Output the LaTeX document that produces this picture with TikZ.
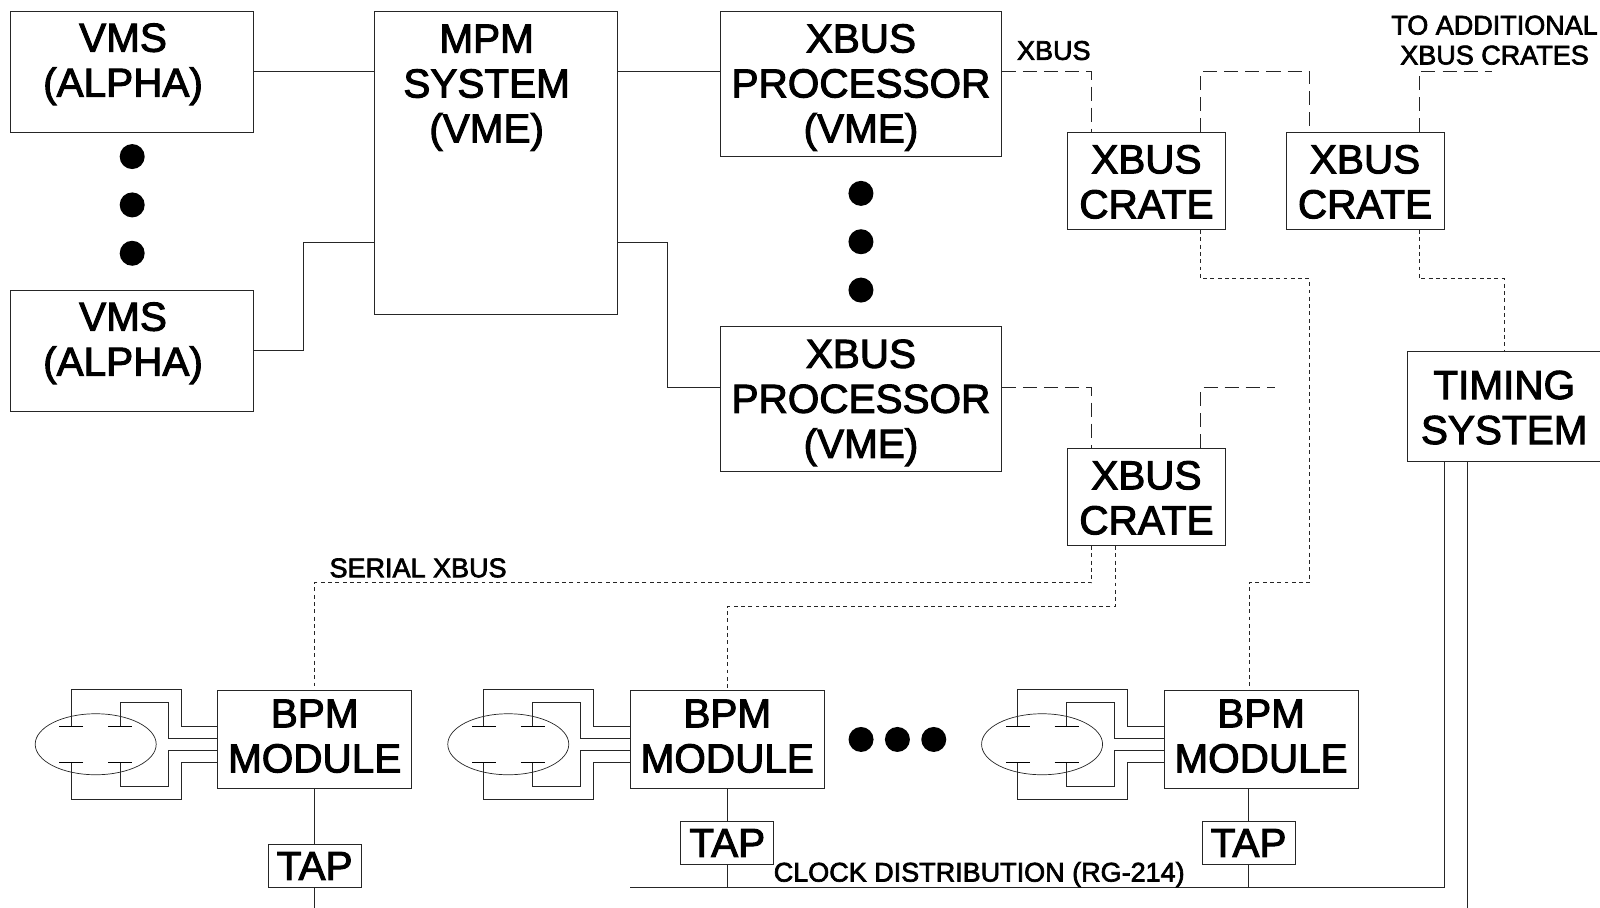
\documentclass[tikz,border=0pt]{standalone}
\usepackage{fontspec}
\setmainfont{Liberation Sans}[RawFeature={embolden=2.5}]
\usepackage{xcolor}
\usepackage{tikz}
\usetikzlibrary{shapes,arrows.meta,positioning,calc}

\newcommand{\tailgap}[1]{\\[#1]\mbox{}}
\newcommand{\leftpad}{\rule{13pt}{0pt}}

\begin{document}
\begin{tikzpicture}[
    box/.style={rectangle, draw=black!85, line width=0.7pt, inner sep=0pt, align=center, font=\fontsize{28.8}{32}\selectfont},
    vmsbox/.style={box, minimum width=6.075cm, minimum height=3.025cm},
    mpmbox/.style={box, minimum width=6.075cm, minimum height=7.575cm},
    procbox/.style={box, minimum width=7.015cm, minimum height=3.625cm},
    cratebox/.style={box, minimum width=3.95cm, minimum height=2.425cm},
    timebox/.style={box, minimum width=4.85cm, minimum height=2.75cm},
    bpmbox/.style={box, minimum width=4.85cm, minimum height=2.45cm},
    tapbox/.style={box, minimum width=2.325cm, minimum height=1.075cm},
    bigdot/.style={circle, fill=black, inner sep=0pt, minimum size=0.625cm},
    tube/.style={ellipse, draw=black!85, line width=0.5pt, inner sep=0pt, minimum width=3.025cm, minimum height=1.525cm},
    smalltext/.style={inner sep=0pt, align=center, font=\fontsize{19.2}{21.3}\selectfont},
    wire/.style={draw=black!85, line width=0.7pt},
    busline/.style={wire, dash pattern=on 10pt off 5pt},
    serialline/.style={wire, dash pattern=on 2.8pt off 2.4pt}
]
    \useasboundingbox (0,0) rectangle (40,-22.7);

    % computers and processors
    \node [vmsbox, anchor=north west] (vms1) at (0.255,-0.275) {VMS\leftpad\\(ALPHA)\leftpad\tailgap{-15pt}};
    \node [vmsbox, below=3.925cm of vms1] (vms2) {VMS\leftpad\\(ALPHA)\leftpad\tailgap{-15pt}};
    \node [mpmbox, below right=0cm and 2.99cm of vms1.north east] (mpm) {MPM\leftpad\\SYSTEM\leftpad\\(VME)\leftpad\tailgap{81pt}};
    \node [procbox, below right=0cm and 2.56cm of mpm.north east] (xp1) {XBUS\\PROCESSOR\\(VME)\tailgap{-31pt}};
    \node [procbox, below=4.235cm of xp1] (xp2) {XBUS\\PROCESSOR\\(VME)\tailgap{-31pt}};

    \node [bigdot, below=0.27cm of vms1] (vd1) {};
    \node [bigdot, below=0.57cm of vd1] (vd2) {};
    \node [bigdot, below=0.57cm of vd2] (vd3) {};
    \node [bigdot, below=0.59cm of xp1] (xd1) {};
    \node [bigdot, below=0.57cm of xd1] (xd2) {};
    \node [bigdot, below=0.57cm of xd2] (xd3) {};

    % crates
    \node [cratebox, below right=3.025cm and 1.63cm of xp1.north east] (crate1) {XBUS\\CRATE\tailgap{-33pt}};
    \node [cratebox, below right=0cm and 1.49cm of crate1.north east] (crate2) {XBUS\\CRATE\tailgap{-33pt}};
    \node [cratebox, below=5.45cm of crate1] (crate3) {XBUS\\CRATE\tailgap{-33pt}};
    \node [timebox, below right=3.03cm and -0.945cm of crate2.south east] (timing) {TIMING\\SYSTEM\tailgap{-33pt}};

    % modules
    \node [bpmbox, below right=6.95cm and 5.175cm of vms2.south west] (bpm1) {BPM\\MODULE\tailgap{-27pt}};
    \node [bpmbox, right=5.44cm of bpm1] (bpm2) {BPM\\MODULE\tailgap{-27pt}};
    \node [bpmbox, right=8.47cm of bpm2] (bpm3) {BPM\\MODULE\tailgap{-27pt}};
    \node [tapbox, below=1.375cm of bpm1] (tap1) {TAP};
    \node [tapbox, below=0.8cm of bpm2] (tap2) {TAP};
    \node [tapbox, below right=0.8cm and 0.95cm of bpm3.south west] (tap3) {TAP};

    \node [bigdot, right=0.5875cm of bpm2] (bd1) {};
    \node [bigdot, right=0.27cm of bd1] (bd2) {};
    \node [bigdot, right=0.27cm of bd2] (bd3) {};

    % pickups
    \foreach \b/\e in {bpm1/tube1, bpm2/tube2, bpm3/tube3} {
        \node [tube] (\e) at ($(\b.west)+(-3.0375,-0.12)$) {};
        \begin{scope}[shift={(\e)}]
            \draw [wire] (-0.6125,0.45) |- (2.1375,1.375) |- (\b.west |- 0,0.45);
            \draw [wire] (0.6125,0.45) |- (1.8125,1.05) |- (\b.west |- 0,0.15);
            \draw [wire] (0.6125,-0.45) |- (1.8125,-1.05) |- (\b.west |- 0,-0.15);
            \draw [wire] (-0.6125,-0.45) |- (2.1375,-1.375) |- (\b.west |- 0,-0.45);
            \foreach \s in {-1,1} {
                \draw [wire, draw=black] (\s*0.3125,0.45) -- (\s*0.9125,0.45);
                \draw [wire, draw=black] (\s*0.3125,-0.45) -- (\s*0.9125,-0.45);
            }
        \end{scope}
    }

    % connection points
    \coordinate (xp1out) at ($(xp1.north east)+(0,-1.51)$);
    \coordinate (xp2in) at ($(xp2.north west)+(0,-1.525)$);
    \coordinate (xp2out) at ($(xp2.north east)+(0,-1.525)$);
    \coordinate (mpmout) at ($(mpm.north east)+(0,-5.775)$);
    \coordinate (mpmin) at ($(mpm.north west)+(0,-5.775)$);
    \coordinate (c1a) at ($(crate1.north west)+(0.625,0)$);
    \coordinate (c1b) at ($(crate1.north west)+(3.35,0)$);
    \coordinate (c1d) at ($(crate1.south west)+(3.35,0)$);
    \coordinate (c2a) at ($(crate2.north west)+(0.6,0)$);
    \coordinate (c2b) at ($(crate2.north west)+(3.34,0)$);
    \coordinate (c2d) at ($(crate2.south west)+(3.34,0)$);
    \coordinate (c2end) at ($(c2b)+(1.825,1.525)$);
    \coordinate (c3a) at ($(crate3.north west)+(0.625,0)$);
    \coordinate (c3b) at ($(crate3.north west)+(3.35,0)$);
    \coordinate (c3c) at ($(crate3.south west)+(0.625,0)$);
    \coordinate (c3d) at ($(crate3.south west)+(1.2125,0)$);
    \coordinate (c3end) at ($(c3b)+(1.85,1.5175)$);
    \coordinate (sb) at ($(c3c)+(0,-0.92)$);
    \coordinate (xd) at (c2a |- sb);
    \coordinate (bpm3top) at ($(bpm3.north west)+(2.1375,0)$);
    \coordinate (tm1) at ($(timing.south west)+(0.95,0)$);
    \coordinate (tm2) at ($(timing.south west)+(1.53,0)$);
    \coordinate (clkend) at ($(tap2.south -| bpm2.west)+(0,-0.575)$);
    \coordinate (tapend) at ($(tap1.south)+(0,-0.6)$);
    \coordinate (tmend) at (tm2 |- tapend);

    % solid links
    \draw [wire] (vms1.east) -- (vms1.east -| mpm.west);
    \draw [wire] (vms1.east -| mpm.east) -- (vms1.east -| xp1.west);
    \draw [wire] (vms2.east) -- ++(1.225,0) |- (mpmin);
    \draw [wire] (mpmout) -- ++(1.25,0) |- (xp2in);

    % xbus
    \draw [busline] (xp1out) -| (c1a);
    \draw [busline] (c1b) -- ++(0,1.525) -| (c2a);
    \draw [busline] (c2b) |- (c2end);
    \draw [busline] (xp2out) -| (c3a);
    \draw [busline] (c3b) |- (c3end);

    % serial xbus
    \draw [serialline] (c3c) -- (sb) -| (bpm1.north);
    \draw [serialline] (c3d) -- ++(0,-1.5175) -| (bpm2.north);
    \draw [serialline] (c1d) -- ++(0,-1.225) -| (xd) -| (bpm3top);
    \draw [serialline] (c2d) -- ++(0,-1.225) -| (timing.north);

    % clock
    \draw [wire] (bpm1) -- (tap1);
    \draw [wire] (tap1) -- (tapend);
    \draw [wire] (bpm2) -- (tap2);
    \draw [wire] (tap2) -- (tap2.south |- clkend);
    \draw [wire] (tap3.north |- bpm3.south) -- (tap3.north);
    \draw [wire] (tap3) -- (tap3.south |- clkend);
    \draw [wire] (tm1) |- (clkend);
    \draw [wire] (tm2) -- (tmend);

    % labels
    \node [smalltext, above right=0.275cm and 0.375cm of xp1out] (xbuslabel) {XBUS};
    \node [smalltext, above=0.15cm of c2end, xshift=0.06cm] (morelabel) {TO ADDITIONAL\\XBUS CRATES};
    \node [smalltext, above right=0.125cm and 0.365cm of bpm1.north |- sb] (seriallabel) {SERIAL XBUS};
    \node [smalltext, below right=-0.08cm and -0.02cm of tap2.south east] (clocklabel) {CLOCK DISTRIBUTION (RG-214)};
\end{tikzpicture}
\end{document}
